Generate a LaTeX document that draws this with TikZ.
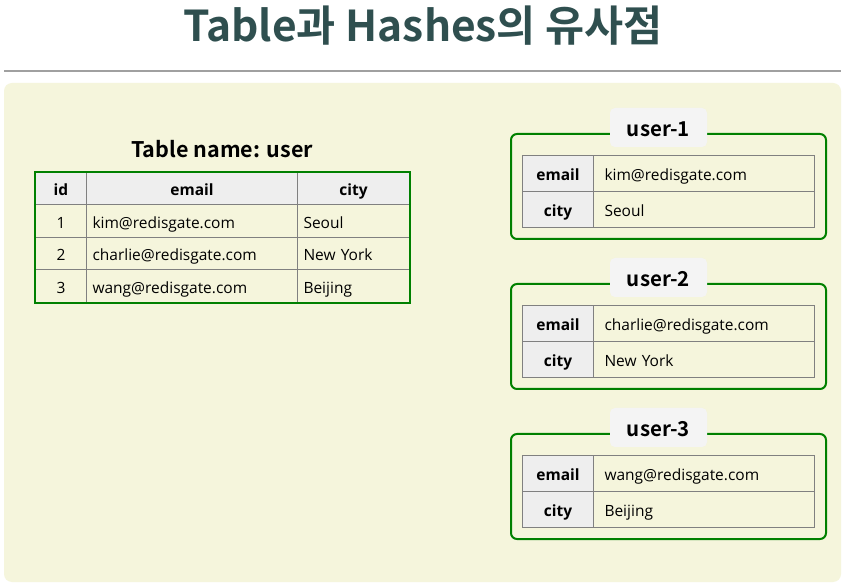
\documentclass[tikz,border=0pt]{standalone}
\usepackage{fontspec}
\setmainfont{Open Sans}
\newfontfamily\krfont{Noto Sans CJK KR}[BoldFont={Noto Sans CJK KR Bold}]
\definecolor{titlec}{HTML}{2F4F4F}
\definecolor{gr}{HTML}{008000}
\definecolor{bg}{HTML}{F5F5DC}
\definecolor{hdr}{HTML}{EEEEEE}
\definecolor{grid}{HTML}{808080}
\definecolor{lbl}{HTML}{F4F4F4}
\definecolor{rule}{HTML}{A0A0A0}
\tikzset{
  cellbase/.style={draw=grid, line width=1pt, inner ysep=0pt, minimum height=#1, anchor=north west, text height=14pt, text depth=0pt, font=\fontsize{15.5}{19}\selectfont},
  hcell/.style={cellbase=32.5, fill=hdr, font=\fontsize{15.5}{19}\selectfont\bfseries, align=center},
  dcell/.style={cellbase=32.5, align=left},
  kcell/.style={cellbase=36, fill=hdr, font=\fontsize{15.5}{19}\selectfont\bfseries, align=center},
  vcell/.style={cellbase=36, align=left},
  greenbox/.style={draw=gr, line width=2pt, rounded corners=6pt},
  lblbox/.style={fill=lbl, rounded corners=5pt, minimum width=97pt, minimum height=39pt, inner sep=0pt, text height=18pt, text depth=0pt, font=\krfont\fontsize{20.5}{24}\selectfont\bfseries},
}
\begin{document}
\begin{tikzpicture}[x=1pt,y=-1pt]
\useasboundingbox (0,0) rectangle (847,585);
\fill[white] (0,0) rectangle (847,585);
\node[font=\krfont\fontsize{42.5}{48}\selectfont\bfseries, text=titlec] (title) at (423,26) {Table과 Hashes의 유사점};
\coordinate (ruleL) at (4,71);
\coordinate (ruleR) at (841,71);
\draw[rule, line width=1.2pt] (ruleL) -- (ruleR);
\fill[bg, rounded corners=8pt] (4,83) rectangle (841,582);

% Table
\node[font=\krfont\fontsize{21.5}{25}\selectfont\bfseries] (tname) at (222,149) {Table name: user};
\node[hcell, text width=51pt, inner xsep=0pt] (h1) at (35,172) {id};
\node[hcell, text width=211pt, inner xsep=0pt] (h2) at (86,172) {email};
\node[hcell, text width=112pt, inner xsep=0pt] (h3) at (297,172) {city};
\foreach \r/\e/\c in {1/kim@redisgate.com/Seoul, 2/charlie@redisgate.com/New York, 3/wang@redisgate.com/Beijing}{
  \node[dcell, align=center, text width=51pt, inner xsep=0pt] (r\r a) at (35,{172+32.5*\r}) {\r};
  \node[dcell, text width=199pt, inner xsep=6pt] (r\r b) at (86,{172+32.5*\r}) {\e};
  \node[dcell, text width=100pt, inner xsep=6pt] (r\r c) at (297,{172+32.5*\r}) {\c};
}
\draw[gr, line width=2pt] (h1.north west) rectangle (r3c.south east);

% Hashes
\foreach \i/\e/\c in {1/kim@redisgate.com/Seoul, 2/charlie@redisgate.com/New York, 3/wang@redisgate.com/Beijing}{
  \pgfmathsetmacro{\dy}{(\i-1)*150}
  \coordinate (b\i nw) at (511,134+\dy);
  \coordinate (b\i se) at (826,239+\dy);
  \draw[greenbox] (b\i nw) rectangle (b\i se);
  \node[lblbox] (lab\i) at (658.5,127.5+\dy) {user-\i};
  \node[kcell, text width=71pt, inner xsep=0pt] (k\i a) at (522,155+\dy) {email};
  \node[vcell, text width=199pt, inner xsep=11pt] (v\i a) at (593,155+\dy) {\e};
  \node[kcell, text width=71pt, inner xsep=0pt] (k\i b) at (522,191+\dy) {city};
  \node[vcell, text width=199pt, inner xsep=11pt] (v\i b) at (593,191+\dy) {\c};
}
\end{tikzpicture}
\end{document}
